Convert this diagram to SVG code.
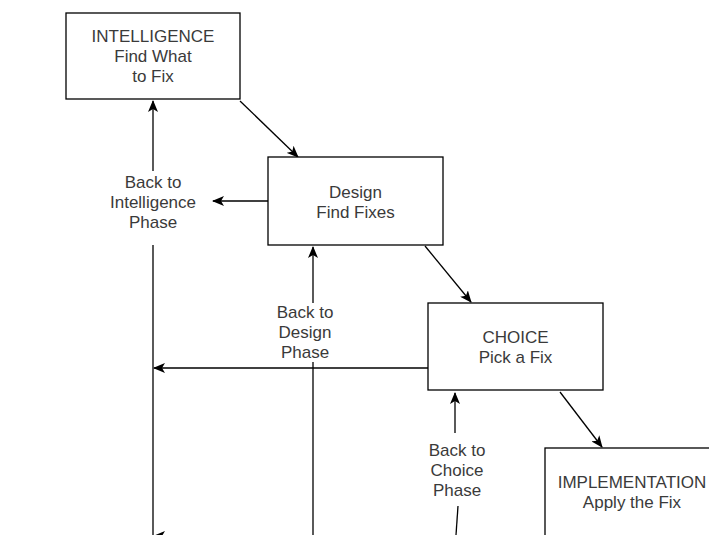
<svg xmlns="http://www.w3.org/2000/svg" width="709" height="535" viewBox="0 0 709 535">
<style>
.box{fill:#fff;stroke:#000;stroke-width:1.3}
.t{font-family:"Liberation Sans",Arial,sans-serif;font-size:17px;fill:#3a3a3a;text-anchor:middle}
.c{fill:none;stroke:#000;stroke-width:1.3}
</style>
<defs>
<marker id="ah" viewBox="0 0 12 10" refX="11" refY="5" markerWidth="12" markerHeight="10" markerUnits="userSpaceOnUse" orient="auto">
<path d="M0,0 L12,5 L0,10 L3,5 z" fill="#000"/>
</marker>
</defs>
<rect width="709" height="535" fill="#fff"/>
<g id="connectors">
<line class="c" x1="240" y1="101" x2="298" y2="157" marker-end="url(#ah)"/>
<line class="c" x1="425" y1="246" x2="471" y2="302" marker-end="url(#ah)"/>
<line class="c" x1="560" y1="392" x2="602" y2="447" marker-end="url(#ah)"/>
<line class="c" x1="268" y1="201" x2="213" y2="201" marker-end="url(#ah)"/>
<line class="c" x1="153" y1="171" x2="153" y2="101" marker-end="url(#ah)"/>
<line class="c" x1="153" y1="245" x2="153" y2="535"/>
<line class="c" x1="428" y1="368" x2="154" y2="368" marker-end="url(#ah)"/>
<line class="c" x1="313" y1="303" x2="313" y2="247" marker-end="url(#ah)"/>
<line class="c" x1="313" y1="362" x2="313" y2="535"/>
<line class="c" x1="455" y1="433" x2="455" y2="393" marker-end="url(#ah)"/>
<line class="c" x1="458" y1="506" x2="456" y2="535"/>
<line class="c" x1="709" y1="536" x2="154" y2="536" marker-end="url(#ah)"/>
</g>
<g id="intelligence">
<rect class="box" x="66" y="13" width="174" height="86"/>
<text class="t" x="153" y="42">INTELLIGENCE</text>
<text class="t" x="153" y="62">Find What</text>
<text class="t" x="153" y="82">to Fix</text>
</g>
<g id="design">
<rect class="box" x="268" y="157" width="175" height="88"/>
<text class="t" x="355.5" y="198">Design</text>
<text class="t" x="355.5" y="218">Find Fixes</text>
</g>
<g id="choice">
<rect class="box" x="428" y="303" width="175" height="87"/>
<text class="t" x="515.5" y="343">CHOICE</text>
<text class="t" x="515.5" y="363">Pick a Fix</text>
</g>
<g id="implementation">
<rect class="box" x="545" y="448" width="175" height="100"/>
<text class="t" x="632" y="488">IMPLEMENTATION</text>
<text class="t" x="632" y="508">Apply the Fix</text>
</g>
<g id="label-intelligence">
<text class="t" x="153" y="188">Back to</text>
<text class="t" x="153" y="208">Intelligence</text>
<text class="t" x="153" y="228">Phase</text>
</g>
<g id="label-design">
<text class="t" x="305" y="318">Back to</text>
<text class="t" x="305" y="338">Design</text>
<text class="t" x="305" y="358">Phase</text>
</g>
<g id="label-choice">
<text class="t" x="457" y="456">Back to</text>
<text class="t" x="457" y="476">Choice</text>
<text class="t" x="457" y="496">Phase</text>
</g>
</svg>
